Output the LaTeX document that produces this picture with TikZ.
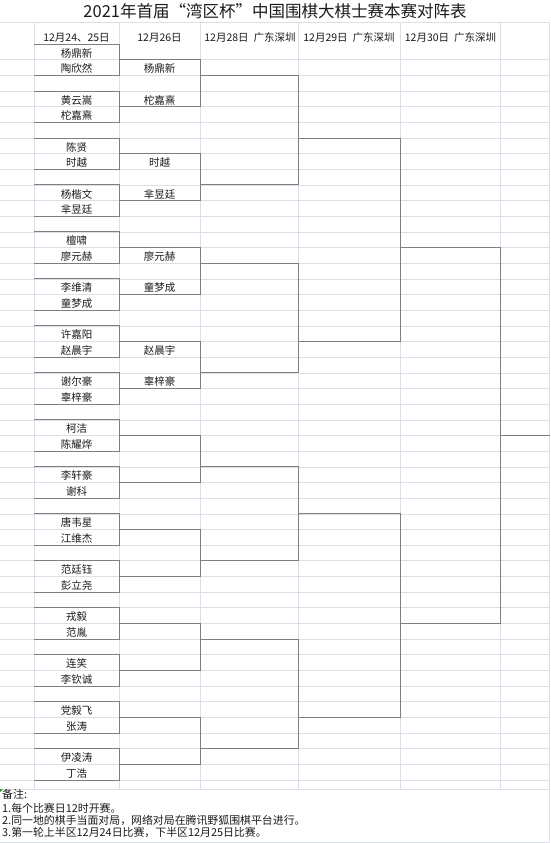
\documentclass[tikz,border=0pt]{standalone}
\usepackage{fontspec}
\setmainfont{Noto Sans CJK SC}
\usetikzlibrary{positioning}
\definecolor{gridgrey}{HTML}{DCDFEA}
\definecolor{linegrey}{HTML}{7F7F7F}
\definecolor{inkblack}{HTML}{1A1A1A}
\definecolor{markgreen}{HTML}{2E9E3E}

\begin{document}
\begin{tikzpicture}[x=1pt,y=-1pt,
gridline/.style={draw=gridgrey,line width=0.6pt},
bracket/.style={draw=linegrey,line width=0.9pt},
player/.style={font=\fontsize{10.5}{12}\selectfont,text=inkblack,anchor=base,inner sep=0pt},
datehead/.style={font=\fontsize{10.5}{12}\selectfont,text=inkblack,anchor=base,inner sep=0pt},
remark/.style={font=\fontsize{10.9}{12}\selectfont,text=inkblack,anchor=base west,inner sep=0pt}
]
\useasboundingbox (0,0) rectangle (550,843);

% sheet grid
\draw[gridline] (0,22) -- (550,22);
\draw[gridline] (0,789) -- (550,789);
\draw[gridline] (0,842.5) -- (550,842.5);
\foreach \cx in {34,119,200,298,400,500}
  \draw[gridline] (\cx,22) -- (\cx,789);
\draw[gridline] (549.5,22) -- (549.5,843);

\node[font=\fontsize{16.5}{18}\selectfont,text=inkblack] (title) at (275,11) {2021年首届“湾区杯”中国围棋大棋士赛本赛对阵表};

\node[datehead] (d1) at (76.5,41.8) {12月24、25日};
\node[datehead] (d2) at (159.5,41.8) {12月26日};
\node[datehead] (d3) at (250,41.8) {12月28日\hspace{5pt}广东深圳};
\node[datehead] (d4) at (349,41.8) {12月29日\hspace{5pt}广东深圳};
\node[datehead] (d5) at (450.5,41.8) {12月30日\hspace{5pt}广东深圳};

\begin{scope}[yshift=-44pt,y=-15.66pt]
\foreach \r in {1,...,47}
  \draw[gridline] (0,\r) -- (550,\r);

% first round
\foreach \a/\b [count=\m from 0] in {杨鼎新/陶欣然,黄云嵩/柁嘉熹,陈贤/时越,杨楷文/芈昱廷,
  檀啸/廖元赫,李维清/童梦成,许嘉阳/赵晨宇,谢尔豪/辜梓豪,柯洁/陈耀烨,李轩豪/谢科,
  唐韦星/江维杰,范廷钰/彭立尧,戎毅/范胤,连笑/李钦诚,党毅飞/张涛,伊凌涛/丁浩}{
  \node[player,yshift=2.6pt] (r1a\m) at (76.5,{3*\m+1}) {\a};
  \node[player,yshift=2.6pt] (r1b\m) at (76.5,{3*\m+2}) {\b};
  \draw[bracket] (34,{3*\m}) -| (119,{3*\m+2}) -- (34,{3*\m+2});
}

% second round
\foreach \a/\b [count=\k from 0] in {杨鼎新/柁嘉熹,时越/芈昱廷,廖元赫/童梦成,赵晨宇/辜梓豪}{
  \node[player,yshift=2.6pt] (r2a\k) at (159.5,{6*\k+2}) {\a};
  \node[player,yshift=2.6pt] (r2b\k) at (159.5,{6*\k+4}) {\b};
}
\foreach \k in {0,...,7}
  \draw[bracket] (119,{6*\k+1}) -| (200,{6*\k+4}) -- (119,{6*\k+4});

% later rounds
\draw[bracket] (200,2) -| (298,9) -- (200,9);
\draw[bracket] (200,14) -| (298,21) -- (200,21);
\draw[bracket] (200,27) -| (298,33) -- (200,33);
\draw[bracket] (200,38) -| (298,45) -- (200,45);
\draw[bracket] (298,6) -| (400,19) -- (298,19);
\draw[bracket] (298,30) -| (400,43) -- (298,43);
\draw[bracket] (400,13) -| (500,37) -- (400,37);
\draw[bracket] (500,25) -- (550,25);
\end{scope}

% notes
\fill[markgreen] (0,789) -- (3,789) -- (0,792) -- cycle;
\node[remark] (n0) at (2,798.8) {备注:};
\node[remark] (n1) at (2,812) {1.每个比赛日12时开赛。};
\node[remark] (n2) at (2,824) {2.同一地的棋手当面对局，网络对局在腾讯野狐围棋平台进行。};
\node[remark] (n3) at (2,836.5) {3.第一轮上半区12月24日比赛，下半区12月25日比赛。};
\end{tikzpicture}
\end{document}
